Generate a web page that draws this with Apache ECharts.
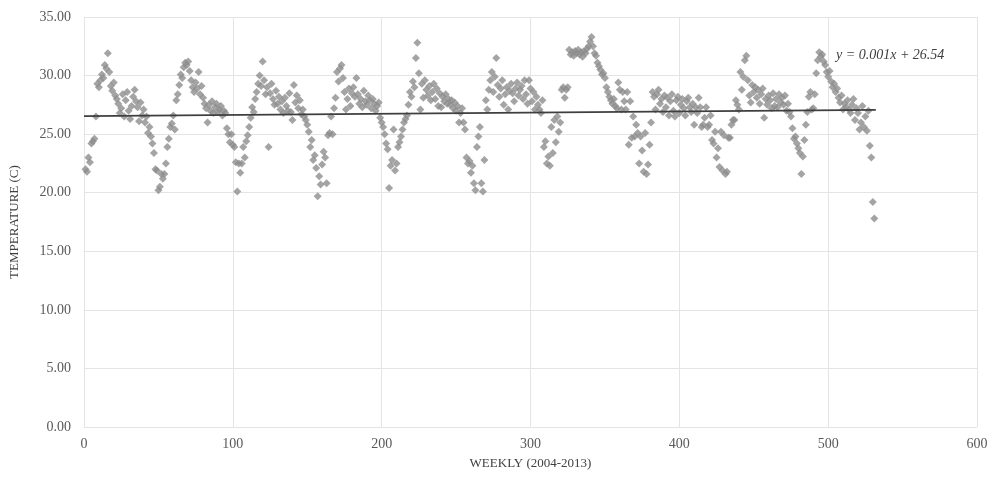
<!DOCTYPE html>
<html>
<head>
<meta charset="utf-8">
<script src="https://cdn.jsdelivr.net/npm/echarts@6/dist/echarts.min.js"></script>
<style>
  html, body { margin: 0; padding: 0; background: #fff; }
  #main { width: 994px; height: 477px; }
</style>
</head>
<body>
<div id="main"></div>
<script>
// weekly mean temperature, one block per ~year of weeks
const tempBlock1 = [22.0,21.8,23.0,22.6,24.2,24.4,24.6,26.5,29.3,29.0,29.6,30.1,29.8,30.9,30.6,31.9,30.3,29.1,28.7,29.4,28.3,28.0,27.6,26.8,27.2,28.4,26.5,27.9,28.6,27.0,26.3,27.4,28.2,28.8,27.8,27.3,26.1,27.7,26.6,27.1,26.0,26.5,25.1,25.6,24.8,24.2,23.4,22.0,21.9,20.2,20.5,21.6];
const tempBlock2 = [21.2,21.6,22.5,23.9,24.6,25.6,25.9,26.6,25.4,27.9,28.4,29.2,30.1,29.8,30.7,31.1,30.9,31.2,30.4,29.6,29.0,28.6,29.4,28.9,30.3,28.4,29.1,28.1,27.6,27.2,26.0,27.5,27.0,27.8,26.8,27.3,27.6,26.9,27.1,27.4,26.6,27.0,26.8,25.5,25.0,24.3,25.0,24.1,23.9,22.6,20.1,22.5];
const tempBlock3 = [21.7,22.5,23.9,23.0,24.4,24.9,25.6,26.4,27.3,26.9,28.0,28.6,29.3,30.0,29.1,31.2,29.6,28.4,29.0,23.9,28.5,29.3,28.0,27.5,28.7,27.6,28.2,27.1,27.8,26.8,28.1,27.4,27.0,28.5,26.9,26.2,29.2,27.7,28.3,27.2,27.9,26.7,27.1,26.5,26.2,25.8,25.2,23.9,24.5,22.8,23.2,22.1];
const tempBlock4 = [19.7,21.4,20.7,22.4,23.5,23.0,20.8,24.9,25.1,26.5,25.0,27.2,28.1,30.3,29.5,30.6,30.9,29.8,28.6,27.1,28.0,28.9,27.4,28.5,29.0,28.2,29.8,28.4,27.6,28.0,27.3,28.7,27.8,27.5,28.3,27.9,27.2,28.0,27.6,27.0,27.4,27.7,26.4,26.0,25.6,25.0,24.2,23.7,20.4,22.3,22.8,25.4];
const tempBlock5 = [21.9,22.5,23.9,24.3,24.8,25.4,26.0,26.3,26.6,27.5,28.6,28.2,29.5,29.0,31.5,32.8,30.2,27.1,29.3,28.1,29.6,28.8,28.3,29.1,27.9,28.6,29.3,28.0,28.9,27.4,28.5,27.3,28.2,27.8,28.4,27.6,28.0,27.5,27.9,27.2,27.7,27.0,27.4,26.0,26.8,27.2,26.0,25.4,23.0,22.5,22.7,21.7];
const tempBlock6 = [22.3,20.8,20.2,23.9,24.8,25.6,20.8,20.1,22.8,27.9,27.1,28.8,29.6,30.3,28.6,29.9,31.5,29.2,28.2,28.9,29.6,27.5,28.4,29.0,27.1,28.7,29.3,28.5,27.8,28.9,29.4,28.3,28.8,29.1,28.0,29.6,28.4,27.6,29.6,28.9,27.8,28.6,27.1,28.2,27.5,27.1,26.8,27.9,23.9,24.4,22.5,23.1];
const tempBlock7 = [22.3,25.6,23.4,26.2,24.3,26.5,25.2,26.0,28.8,29.0,28.1,28.8,29.0,32.2,31.8,32.0,31.7,32.1,31.9,32.2,31.8,32.0,31.6,32.1,31.9,32.3,32.5,32.9,33.3,32.5,31.9,31.7,31.1,30.8,30.5,30.1,30.2,29.8,29.0,28.6,28.2,27.9,27.6,28.0,27.4,27.2,29.4,28.8,27.1,28.6,27.8,27.1];
const tempBlock8 = [28.6,24.1,27.8,24.7,26.5,24.8,25.8,25.1,22.5,24.8,23.6,21.8,25.1,21.6,22.4,24.1,26.0,28.6,28.2,27.1,28.4,28.8,27.6,28.0,26.9,28.3,27.3,28.1,26.6,27.8,28.4,27.0,26.5,27.9,28.2,26.8,27.5,28.0,27.2,26.6,27.8,28.1,27.3,26.9,27.6,25.8,27.3,26.8,28.1,27.3,25.6,25.8];
const tempBlock9 = [26.4,27.3,25.6,25.8,26.6,24.5,24.2,25.2,23.0,23.8,22.2,25.2,21.9,24.9,21.6,21.8,24.7,24.7,25.8,26.2,26.2,27.9,27.5,27.1,30.3,28.8,29.9,31.3,31.7,29.6,28.3,27.7,29.2,28.6,29.0,28.1,28.8,27.6,28.4,28.9,26.4,28.0,27.5,28.3,27.9,27.2,28.5,27.4,28.0,27.3,28.4,27.7];
const tempBlock10 = [28.1,27.5,28.3,27.0,27.6,26.9,26.5,25.5,24.6,24.8,24.2,23.8,23.4,21.6,23.1,24.5,25.8,26.9,28.2,28.6,27.1,27.2,28.4,30.2,31.3,32.0,31.6,31.8,31.2,30.9,30.3,29.9,30.4,29.5,29.0,29.3,28.6,28.9,28.1,27.7,28.3,27.1,27.6,27.3,27.9,27.1,26.8,27.5,28.0,26.2,27.2,26.8,25.4,26.0,27.4,25.6,26.5,25.3,27.0,24.0,23.0,19.2,17.8];

const yTicks = [0, 5, 10, 15, 20, 25, 30, 35];
const xTicks = [0, 100, 200, 300, 400, 500, 600];

// linear trend shown on the chart
const trendSlope = 0.001;
const trendIntercept = 26.54;
const trendRange = [0, 532];

const temps = [].concat(tempBlock1, tempBlock2, tempBlock3, tempBlock4, tempBlock5,
    tempBlock6, tempBlock7, tempBlock8, tempBlock9, tempBlock10);
const points = temps.map((t, i) => [i + 1, t]);
const trendLine = trendRange.map((x) => [x, trendIntercept + trendSlope * x]);

const chart = echarts.init(document.getElementById('main'));
const serif = '"Liberation Serif", "DejaVu Serif", serif';

chart.setOption({
    animation: false,
    grid: { left: 83, right: 17, top: 17, bottom: 50 },
    xAxis: {
        type: 'value',
        min: xTicks[0],
        max: xTicks[xTicks.length - 1],
        interval: 100,
        name: 'WEEKLY (2004-2013)',
        nameLocation: 'middle',
        nameGap: 30,
        nameTextStyle: { fontFamily: serif, fontSize: 13, color: '#404040' },
        axisLine: { show: false },
        axisTick: { show: false },
        axisLabel: { fontFamily: serif, fontSize: 14, color: '#595959', margin: 10 },
        splitLine: { show: true, lineStyle: { color: '#e4e4e4', width: 1 } }
    },
    yAxis: {
        type: 'value',
        min: yTicks[0],
        max: yTicks[yTicks.length - 1],
        interval: 5,
        name: 'TEMPERATURE (C)',
        nameLocation: 'middle',
        nameRotate: 90,
        nameGap: 63,
        nameTextStyle: { fontFamily: serif, fontSize: 13, color: '#404040' },
        axisLine: { show: false },
        axisTick: { show: false },
        axisLabel: {
            fontFamily: serif, fontSize: 14, color: '#595959', margin: 13,
            formatter: (v) => v.toFixed(2)
        },
        splitLine: { show: true, lineStyle: { color: '#e4e4e4', width: 1 } }
    },
    series: [
        {
            type: 'scatter',
            data: points,
            symbol: 'diamond',
            symbolSize: 8,
            itemStyle: { color: '#8d8d8d' },
            z: 2
        },
        {
            type: 'line',
            data: trendLine,
            symbol: 'none',
            lineStyle: { color: '#3f3f3f', width: 1.6 },
            z: 3
        }
    ],
    graphic: [{
        type: 'text',
        left: 836,
        top: 48,
        style: {
            text: 'y = 0.001x + 26.54',
            font: 'italic 14px ' + serif,
            fill: '#404040'
        }
    }]
});
</script>
</body>
</html>
